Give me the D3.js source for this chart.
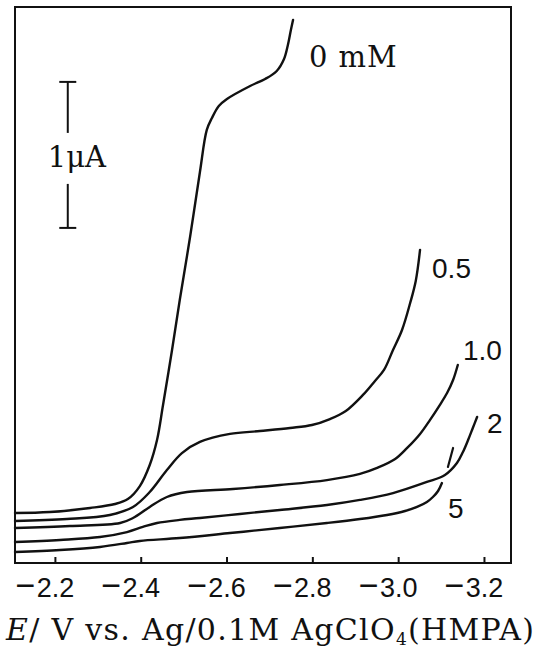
<!DOCTYPE html>
<html>
<head>
<meta charset="utf-8">
<script src="https://cdn.jsdelivr.net/npm/d3@7"></script>
<style>
  body { margin: 0; background: #fff; }
  svg { display: block; }
</style>
</head>
<body>
<svg id="chart"></svg>
<script>
// potential (V) vs current (uA)
const xTicks = [-2.2, -2.4, -2.6, -2.8, -3.0, -3.2];

const curve0mM = [
  [-2.107, 0.342], [-2.188, 0.349], [-2.282, 0.377], [-2.340, 0.404], [-2.370, 0.438],
  [-2.398, 0.527], [-2.421, 0.671], [-2.438, 0.842], [-2.452, 1.082], [-2.473, 1.459],
  [-2.491, 1.801], [-2.515, 2.233], [-2.538, 2.678], [-2.554, 2.966], [-2.566, 3.048],
  [-2.582, 3.130], [-2.601, 3.178], [-2.655, 3.267], [-2.690, 3.315], [-2.717, 3.370],
  [-2.734, 3.452], [-2.743, 3.548], [-2.750, 3.651], [-2.755, 3.719]
];
const curve05mM = [
  [-2.107, 0.288], [-2.228, 0.301], [-2.328, 0.329], [-2.382, 0.384], [-2.421, 0.486],
  [-2.461, 0.637], [-2.496, 0.753], [-2.538, 0.829], [-2.608, 0.884], [-2.678, 0.904],
  [-2.748, 0.925], [-2.799, 0.945], [-2.841, 0.986], [-2.878, 1.041], [-2.918, 1.151],
  [-2.946, 1.247], [-2.967, 1.322], [-2.988, 1.459], [-3.009, 1.596], [-3.028, 1.781],
  [-3.041, 1.932], [-3.051, 2.144]
];
const curve1mM = [
  [-2.107, 0.240], [-2.235, 0.253], [-2.352, 0.274], [-2.382, 0.308], [-2.421, 0.384],
  [-2.461, 0.452], [-2.508, 0.486], [-2.615, 0.507], [-2.724, 0.534], [-2.834, 0.568],
  [-2.911, 0.610], [-2.951, 0.651], [-2.993, 0.712], [-3.021, 0.788], [-3.051, 0.884],
  [-3.074, 0.979], [-3.097, 1.082], [-3.114, 1.164], [-3.128, 1.253], [-3.139, 1.356]
];
const curve2mM = [
  [-2.107, 0.144], [-2.212, 0.158], [-2.305, 0.178], [-2.368, 0.212], [-2.405, 0.247],
  [-2.438, 0.274], [-2.491, 0.295], [-2.538, 0.308], [-2.631, 0.336], [-2.724, 0.363],
  [-2.834, 0.397], [-2.911, 0.432], [-2.988, 0.479], [-3.067, 0.555], [-3.109, 0.603],
  [-3.137, 0.685], [-3.151, 0.760], [-3.163, 0.842], [-3.174, 0.925], [-3.184, 1.000]
];
const curve5mM = [
  [-2.107, 0.075], [-2.212, 0.089], [-2.305, 0.110], [-2.368, 0.137], [-2.398, 0.151],
  [-2.491, 0.171], [-2.608, 0.205], [-2.724, 0.240], [-2.834, 0.274], [-2.911, 0.301],
  [-2.974, 0.329], [-3.016, 0.356], [-3.044, 0.384], [-3.067, 0.418], [-3.081, 0.452],
  [-3.093, 0.493], [-3.102, 0.548]
];

// curve labels, anchored at [E, I] of their lower left corner
const curveLabels = [
  { text: "0 mM", at: [-2.792, 3.397], serif: true },
  { text: "0.5", at: [-3.079, 1.952] },
  { text: "1.0", at: [-3.151, 1.390] },
  { text: "2", at: [-3.207, 0.890] },
  { text: "5", at: [-3.116, 0.308] }
];

// little stroke drawn near the end of the 5 mM trace
const markSegment = [[-3.128, 0.788], [-3.116, 0.658]];

// 1 uA scale bar
const scaleBarE = -2.230;
const scaleBarTop = 3.295;
const scaleBarLength = 1;

const width = 543;
const height = 648;
const frame = { left: 15, right: 511, top: 7, bottom: 563 };

const svg = d3.select("#chart")
  .attr("width", width)
  .attr("height", height);

svg.append("rect")
  .attr("width", width)
  .attr("height", height)
  .attr("fill", "#fff");

const x = d3.scaleLinear()
  .domain([-2.107, -3.263])
  .range([frame.left, frame.right]);

const y = d3.scaleLinear()
  .domain([0, 3.808])
  .range([frame.bottom, frame.top]);

// frame
svg.append("rect")
  .attr("x", frame.left)
  .attr("y", frame.top)
  .attr("width", frame.right - frame.left)
  .attr("height", frame.bottom - frame.top)
  .attr("fill", "none")
  .attr("stroke", "#111")
  .attr("stroke-width", 2);

// x axis, ticks pointing inwards
const xAxis = d3.axisBottom(x)
  .tickValues(xTicks)
  .tickSize(-6)
  .tickFormat(d => d3.format(".1f")(-d));

const gx = svg.append("g")
  .attr("transform", `translate(0,${frame.bottom})`)
  .call(xAxis);

gx.select(".domain").remove();
gx.selectAll(".tick line")
  .attr("stroke", "#111")
  .attr("stroke-width", 2);
gx.selectAll(".tick text")
  .attr("y", 34)
  .attr("dy", null)
  .attr("fill", "#111")
  .style("font-family", "'Liberation Sans', Arial, sans-serif")
  .style("font-size", "27px");

gx.selectAll(".tick").append("text")
  .attr("x", -20)
  .attr("y", 34)
  .attr("text-anchor", "end")
  .attr("fill", "#111")
  .style("font-family", "'Liberation Sans', Arial, sans-serif")
  .style("font-size", "34px")
  .text("\u2212");

// traces
const line = d3.line()
  .x(d => x(d[0]))
  .y(d => y(d[1]))
  .curve(d3.curveCatmullRom.alpha(0.5));

const curves = [curve0mM, curve05mM, curve1mM, curve2mM, curve5mM];

svg.append("g")
  .selectAll("path")
  .data(curves)
  .join("path")
  .attr("d", line)
  .attr("fill", "none")
  .attr("stroke", "#111")
  .attr("stroke-width", 2.4)
  .attr("stroke-linecap", "round")
  .attr("stroke-linejoin", "round");

svg.append("path")
  .attr("d", d3.line().x(d => x(d[0])).y(d => y(d[1]))(markSegment))
  .attr("stroke", "#111")
  .attr("stroke-width", 2.2)
  .attr("stroke-linecap", "round");

// labels
svg.append("g")
  .selectAll("text")
  .data(curveLabels)
  .join("text")
  .attr("x", d => x(d.at[0]))
  .attr("y", d => y(d.at[1]))
  .attr("fill", "#111")
  .style("font-family", d => d.serif ? "'DejaVu Serif', serif" : "'Liberation Sans', Arial, sans-serif")
  .style("font-size", d => d.serif ? "29px" : "28px")
  .style("letter-spacing", d => d.serif ? "1px" : null)
  .text(d => d.text);

// scale bar
const sbX = x(scaleBarE);
const sbTop = y(scaleBarTop);
const sbBottom = y(scaleBarTop - scaleBarLength);
const sbMid = (sbTop + sbBottom) / 2;
const sb = svg.append("g")
  .attr("stroke", "#111")
  .attr("stroke-width", 2);

sb.append("line").attr("x1", sbX).attr("x2", sbX).attr("y1", sbTop).attr("y2", sbMid - 22);
sb.append("line").attr("x1", sbX).attr("x2", sbX).attr("y1", sbMid + 29).attr("y2", sbBottom);
sb.append("line").attr("x1", sbX - 8.5).attr("x2", sbX + 8.5).attr("y1", sbTop).attr("y2", sbTop);
sb.append("line").attr("x1", sbX - 8.5).attr("x2", sbX + 8.5).attr("y1", sbBottom).attr("y2", sbBottom);

svg.append("text")
  .attr("x", sbX - 20)
  .attr("y", sbMid + 12)
  .attr("fill", "#111")
  .style("font-family", "'DejaVu Serif', serif")
  .style("font-size", "29px")
  .text("1\u03bcA");

// x label
const xl = svg.append("text")
  .attr("x", 6)
  .attr("y", 640)
  .attr("fill", "#111")
  .attr("textLength", 528)
  .attr("lengthAdjust", "spacing")
  .style("font-family", "'DejaVu Serif', serif")
  .style("font-size", "30px");

xl.append("tspan").style("font-style", "italic").text("E");
xl.append("tspan").text("/ V vs. Ag/0.1M AgClO");
xl.append("tspan").attr("dy", 5).style("font-size", "17px").text("4");
xl.append("tspan").attr("dy", -5).text("(HMPA)");
</script>
</body>
</html>
